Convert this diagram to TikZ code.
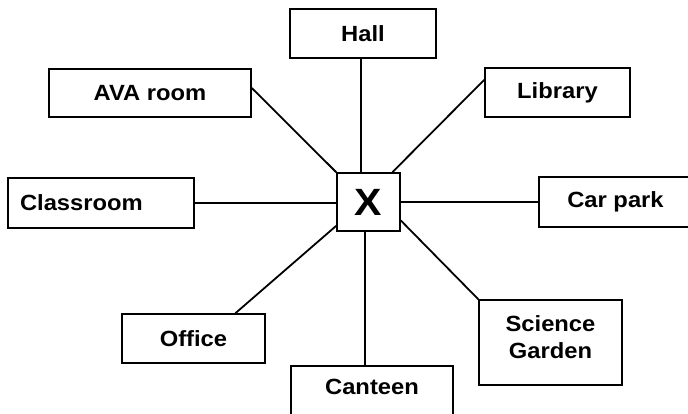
\documentclass[tikz,border=0pt]{standalone}
\usepackage{fontspec}
\setmainfont[FakeStretch=1.08]{Liberation Sans}
\usetikzlibrary{calc}
\begin{document}
\begin{tikzpicture}[x=1pt,y=-1pt,
  room/.style={draw, line width=1.6pt, rectangle, inner sep=0pt,
    font=\bfseries\fontsize{22}{27}\selectfont, align=center},
  link/.style={line width=1.8pt}]
\clip (0,0) rectangle (688,414);
\fill[white] (0,0) rectangle (688,414);
\node[room, minimum width=146pt, minimum height=49pt] (hall) at (363,33.5) {Hall};
\node[room, minimum width=202pt, minimum height=48pt] (ava) at (150,93) {AVA room};
\node[room, minimum width=145pt, minimum height=49pt] (lib) at (557.5,92.5) {Library};
\node[room, minimum width=186pt, minimum height=50pt, text width=162pt, align=left] (cls) at (101,203) {Classroom};
\node[room, minimum width=63pt, minimum height=58pt, font=\bfseries\fontsize{38}{40}\selectfont] (X) at (368.5,202) {X};
\node[room, minimum width=153pt, minimum height=50pt] (car) at (615.5,202) {Car park};
\node[room, minimum width=143pt, minimum height=49pt] (off) at (193.5,338.5) {Office};
\node[room, minimum width=143pt, minimum height=85pt, text depth=10pt] (sci) at (550.5,342.5) {Science\\Garden};
\node[room, minimum width=162pt, minimum height=50pt, text depth=8pt] (canteen) at (372,391) {Canteen};
\draw[link] ($(ava.north east)!0.4!(ava.south east)$) -- (X.north west);
\draw[link] ($(lib.north west)!0.25!(lib.south west)$) -- ($(X.north west)!0.87!(X.north east)$);
\draw[link] ($(X.north west)!0.38!(X.north east)$) coordinate (ht) -- (ht |- hall.south);
\draw[link] ($(X.south west)!0.45!(X.south east)$) coordinate (cb) -- (cb |- canteen.north);
\draw[link] (cls.east) -- (cls.east -| X.west);
\draw[link] (X.east) -- (X.east -| car.west);
\draw[link] ($(X.north west)!0.9!(X.south west)$) -- ($(off.north west)!0.79!(off.north east)$);
\draw[link] ($(X.north east)!0.81!(X.south east)$) -- (sci.north west);
\end{tikzpicture}
\end{document}
